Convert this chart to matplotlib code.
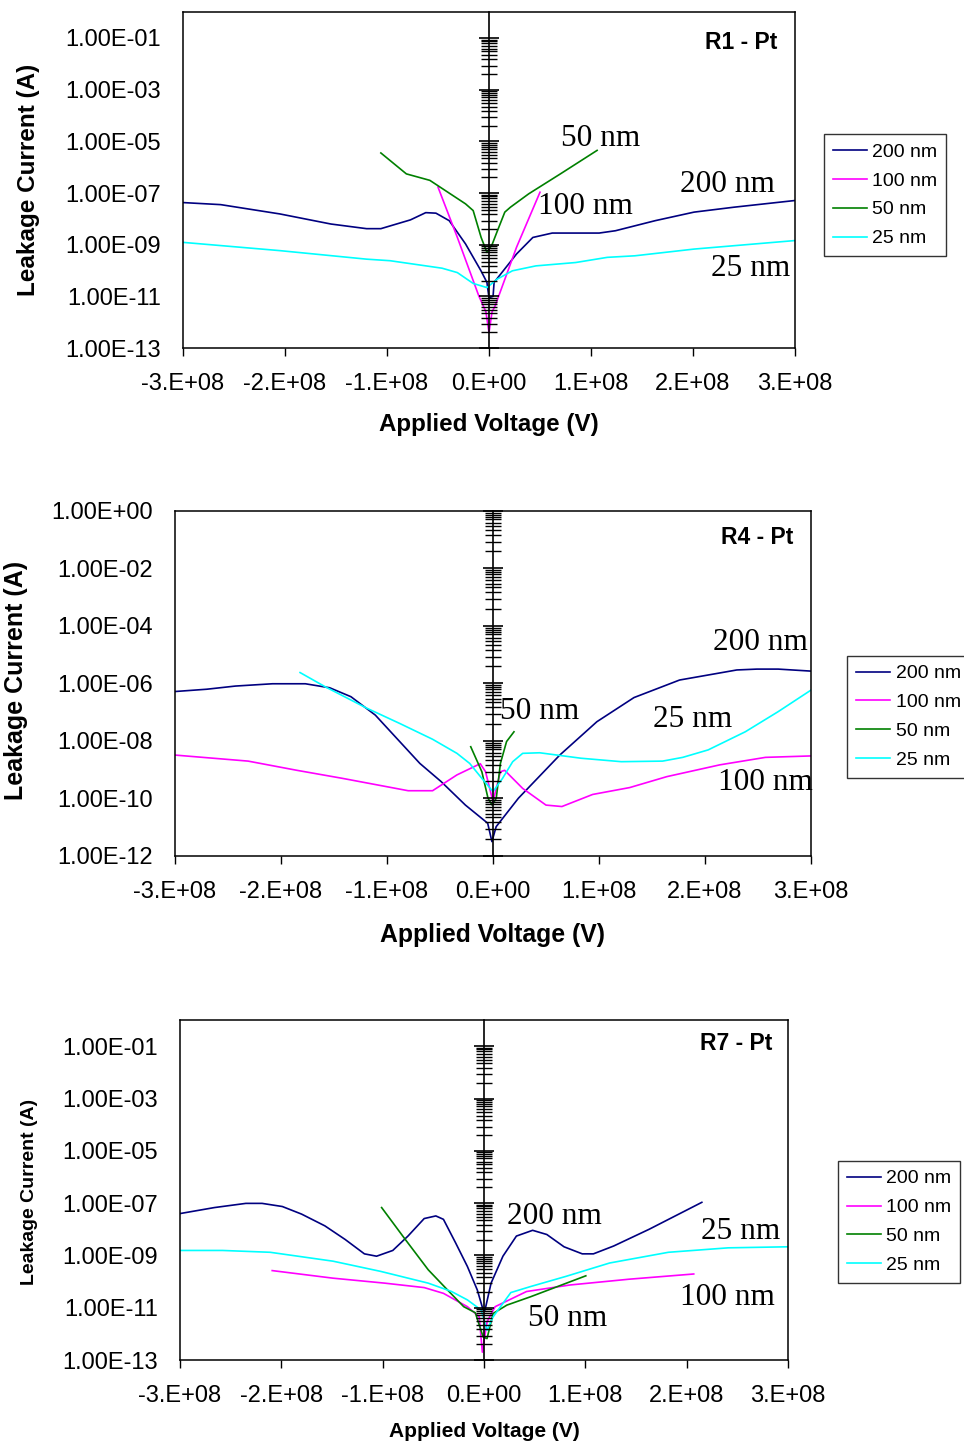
import matplotlib
matplotlib.use("Agg")
import matplotlib.pyplot as plt
import numpy as np

plt.rcParams['font.family'] = ['Liberation Sans', 'DejaVu Sans']

names = ['200 nm', '100 nm', '50 nm', '25 nm']
colors = ['#000080', '#FF00FF', '#008000', '#00FFFF']

# voltage in units of 1E+08 V, current as log10(A)
r1_v_200 = [-3.0, -2.63, -2.05, -1.55, -1.20, -1.06, -0.77, -0.62, -0.52, -0.39, -0.23, -0.08, -0.02, 0.0, 0.04, 0.05,
            0.27, 0.43, 0.62, 1.08, 1.24, 1.63, 2.01, 2.40, 3.0]
r1_i_200 = [-7.37, -7.45, -7.81, -8.20, -8.38, -8.38, -8.04, -7.76, -7.78, -8.07, -8.97, -10.0, -10.46, -11.05, -11.0, -10.46,
            -9.36, -8.72, -8.55, -8.55, -8.46, -8.07, -7.74, -7.55, -7.29]
r1_v_100 = [-0.50, -0.31, -0.10, -0.03, 0.0, 0.03, 0.06, 0.27, 0.50]
r1_i_100 = [-6.77, -8.72, -10.98, -11.6, -12.4, -11.6, -11.37, -9.10, -6.97]
r1_v_50 = [-1.06, -0.81, -0.58, -0.23, -0.155, -0.077, -0.02, 0.03, 0.077, 0.155, 0.21, 0.39, 0.70, 1.06]
r1_i_50 = [-5.45, -6.26, -6.51, -7.42, -7.68, -8.72, -9.30, -9.0, -8.52, -7.74, -7.55, -7.03, -6.26, -5.35]
r1_v_25 = [-3.0, -2.05, -1.20, -0.97, -0.46, -0.31, -0.155, -0.02, 0.077, 0.23, 0.46, 0.85, 1.16, 1.43, 2.01, 3.0]
r1_i_25 = [-8.91, -9.23, -9.56, -9.62, -9.91, -10.08, -10.50, -10.66, -10.34, -10.01, -9.82, -9.69, -9.49, -9.43, -9.17, -8.84]

r4_v_200 = [-3.0, -2.70, -2.43, -2.08, -1.77, -1.54, -1.34, -1.11, -0.88, -0.69, -0.49, -0.26, -0.05, -0.01, 0.03, 0.24,
            0.63, 0.98, 1.33, 1.76, 2.30, 2.49, 2.69, 3.0]
r4_i_200 = [-6.28, -6.20, -6.09, -6.01, -6.01, -6.15, -6.46, -7.10, -8.02, -8.78, -9.41, -10.23, -10.86, -11.50, -10.98, -9.99,
            -8.49, -7.33, -6.49, -5.88, -5.53, -5.50, -5.50, -5.57]
r4_v_100 = [-3.0, -2.31, -1.85, -1.42, -0.80, -0.57, -0.34, -0.12, -0.07, 0.0, 0.07, 0.11, 0.28, 0.50, 0.65, 0.94,
            1.29, 1.64, 2.14, 2.57, 3.0]
r4_i_100 = [-8.49, -8.70, -9.02, -9.30, -9.73, -9.73, -9.18, -8.79, -9.07, -10.11, -9.07, -9.02, -9.65, -10.23, -10.28, -9.86,
            -9.62, -9.24, -8.83, -8.57, -8.52]
r4_v_50 = [-0.21, -0.105, -0.047, -0.008, 0.031, 0.07, 0.128, 0.198]
r4_i_50 = [-8.20, -9.07, -9.99, -10.23, -9.99, -8.78, -8.02, -7.68]
r4_v_25 = [-1.82, -1.58, -1.19, -0.88, -0.57, -0.34, -0.22, -0.105, 0.0, 0.09, 0.186, 0.28, 0.44, 0.83, 1.21,
           1.60, 1.79, 2.03, 2.38, 2.69, 3.0]
r4_i_25 = [-5.62, -6.12, -6.86, -7.39, -7.94, -8.43, -8.78, -9.30, -9.76, -9.30, -8.72, -8.43, -8.41, -8.60, -8.72,
           -8.70, -8.57, -8.31, -7.68, -6.98, -6.23]

r7_v_200 = [-3.0, -2.66, -2.35, -2.19, -1.99, -1.80, -1.57, -1.37, -1.18, -1.06, -0.90, -0.75, -0.59, -0.475, -0.40,
            -0.28, -0.164, -0.066, -0.008, 0.01, 0.07, 0.187, 0.32, 0.48, 0.62, 0.79, 0.97, 1.08, 1.28, 1.63, 2.15]
r7_i_200 = [-7.40, -7.17, -7.01, -7.01, -7.13, -7.42, -7.87, -8.39, -8.94, -9.03, -8.81, -8.26, -7.59, -7.49, -7.62,
            -8.52, -9.42, -10.32, -11.09, -11.09, -10.06, -9.03, -8.26, -8.04, -8.20, -8.67, -8.94, -8.94, -8.64, -8.00, -6.97]
r7_v_100 = [-2.09, -1.49, -0.98, -0.59, -0.40, -0.164, -0.047, -0.016, 0.03, 0.11, 0.42, 0.85, 1.43, 2.07]
r7_i_100 = [-9.58, -9.87, -10.06, -10.23, -10.45, -10.96, -11.35, -12.70, -11.54, -10.96, -10.38, -10.13, -9.91, -9.71]
r7_v_50 = [-1.01, -0.79, -0.55, -0.36, -0.20, -0.086, -0.008, 0.03, 0.09, 0.226, 0.46, 1.005]
r7_i_50 = [-7.17, -8.32, -9.55, -10.32, -10.96, -11.19, -12.12, -12.18, -11.22, -10.90, -10.58, -9.78]
r7_v_25 = [-3.0, -2.58, -2.11, -1.49, -1.02, -0.55, -0.32, -0.164, -0.027, 0.03, 0.09, 0.265, 0.46, 0.81, 1.24,
           1.82, 2.41, 3.0]
r7_i_25 = [-8.81, -8.81, -8.88, -9.22, -9.61, -10.06, -10.38, -10.70, -11.09, -11.86, -11.35, -10.42, -10.19, -9.80, -9.29,
           -8.88, -8.71, -8.67]

x_ticks = [-3, -2, -1, 0, 1, 2, 3]
minor_factors = [4, 8.5, 15, 22, 30, 39, 51, 63, 75, 87]

panels = [
    dict(title='R1 - Pt', rect=[0.1898, 0.7588, 0.6349, 0.2328], ylo=-13, top_tick=-1,
         data=[(r1_v_200, r1_i_200), (r1_v_100, r1_i_100), (r1_v_50, r1_i_50), (r1_v_25, r1_i_25)],
         notes=[('50 nm', 1.09, -4.88), ('100 nm', 0.95, -7.52), ('200 nm', 2.34, -6.67), ('25 nm', 2.56, -9.93)],
         ylab_size=17.5, xlab_size=17.4, ylab_pos=(-0.252, 0.5), xlab_y=-0.229,
         title_pos=(0.971, 0.911), leg_pos=(1.047, 0.455)),
    dict(title='R4 - Pt', rect=[0.1815, 0.4068, 0.6598, 0.2391], ylo=-12, top_tick=0,
         data=[(r4_v_200, r4_i_200), (r4_v_100, r4_i_100), (r4_v_50, r4_i_50), (r4_v_25, r4_i_25)],
         notes=[('200 nm', 2.52, -4.56), ('50 nm', 0.44, -6.99), ('25 nm', 1.88, -7.27), ('100 nm', 2.57, -9.46)],
         ylab_size=18, xlab_size=17.8, ylab_pos=(-0.25, 0.51), xlab_y=-0.229,
         title_pos=(0.972, 0.922), leg_pos=(1.057, 0.403)),
    dict(title='R7 - Pt', rect=[0.1867, 0.0575, 0.6307, 0.2356], ylo=-13, top_tick=-1,
         data=[(r7_v_200, r7_i_200), (r7_v_100, r7_i_100), (r7_v_50, r7_i_50), (r7_v_25, r7_i_25)],
         notes=[('200 nm', 0.70, -7.53), ('25 nm', 2.53, -8.10), ('100 nm', 2.40, -10.61), ('50 nm', 0.83, -11.42)],
         ylab_size=14, xlab_size=15, ylab_pos=(-0.247, 0.494), xlab_y=-0.209,
         title_pos=(0.975, 0.932), leg_pos=(1.082, 0.406)),
]

fig = plt.figure(figsize=(9.64, 14.43), dpi=100)

for p in panels:
    ax = fig.add_axes(p['rect'])
    for (v, i), name, c in zip(p['data'], names, colors):
        ax.plot(np.array(v) * 1e8, 10.0 ** np.array(i), color=c, lw=1.2, label=name)
    ax.set_yscale('log')
    ax.set_xlim(-3e8, 3e8)
    ax.set_ylim(10.0 ** p['ylo'], 1.0)

    # tick labels on the left edge, every second decade
    lab_exp = list(range(p['top_tick'], p['ylo'] - 1, -2))
    ax.set_yticks([10.0 ** e for e in lab_exp], ['%.2E' % 10.0 ** e for e in lab_exp])
    ax.yaxis.set_minor_locator(matplotlib.ticker.NullLocator())
    ax.tick_params(axis='y', length=0, pad=16, labelsize=17)
    ax.set_xticks([t * 1e8 for t in x_ticks], ['%#.0E' % (t * 1e8) for t in x_ticks])
    ax.tick_params(axis='x', direction='out', length=6, width=1, pad=12, labelsize=17)
    for s in ax.spines.values():
        s.set_linewidth(1.1)

    ax.set_ylabel('Leakage Current (A)', fontsize=p['ylab_size'], fontweight='bold')
    ax.yaxis.set_label_coords(*p['ylab_pos'])
    ax.yaxis.label.set_va('center')
    ax.set_xlabel('Applied Voltage (V)', fontsize=p['xlab_size'], fontweight='bold')
    ax.xaxis.set_label_coords(0.5, p['xlab_y'])
    ax.xaxis.label.set_va('center')

    ax.text(p['title_pos'][0], p['title_pos'][1], p['title'], transform=ax.transAxes,
            ha='right', va='center', fontsize=16.5, fontweight='bold')
    for txt, x, y in p['notes']:
        ax.text(x * 1e8, 10.0 ** y, txt, ha='center', va='center', fontsize=22.5,
                family=['Liberation Serif', 'DejaVu Serif'])

    leg = ax.legend(loc='center left', bbox_to_anchor=p['leg_pos'], fontsize=14, frameon=True,
                    fancybox=False, handlelength=1.75, labelspacing=0.58, borderpad=0.45,
                    handletextpad=0.3, borderaxespad=0)
    leg.get_frame().set_edgecolor('black')
    leg.get_frame().set_linewidth(1.0)

    # the value axis crossing at 0 V, Excel style
    cax = fig.add_axes(p['rect'])
    cax.patch.set_visible(False)
    cax.set_xlim(-3e8, 3e8)
    cax.set_yscale('log')
    cax.set_ylim(10.0 ** p['ylo'], 1.0)
    for s in ['top', 'right', 'bottom']:
        cax.spines[s].set_visible(False)
    cax.spines['left'].set_position(('data', 0))
    cax.spines['left'].set_linewidth(1.2)
    cax.set_xticks([])
    major_exp = list(range(p['ylo'], p['top_tick'] + 1, 2))
    cax.set_yticks([10.0 ** e for e in major_exp], [''] * len(major_exp))
    minor = [10.0 ** e * f for e in major_exp[:-1] for f in minor_factors]
    cax.set_yticks(minor, [''] * len(minor), minor=True)
    cax.tick_params(axis='y', which='major', direction='inout', length=15, width=1.2)
    cax.tick_params(axis='y', which='minor', direction='inout', length=11, width=1.0)

fig.savefig('out.png', dpi=100)
